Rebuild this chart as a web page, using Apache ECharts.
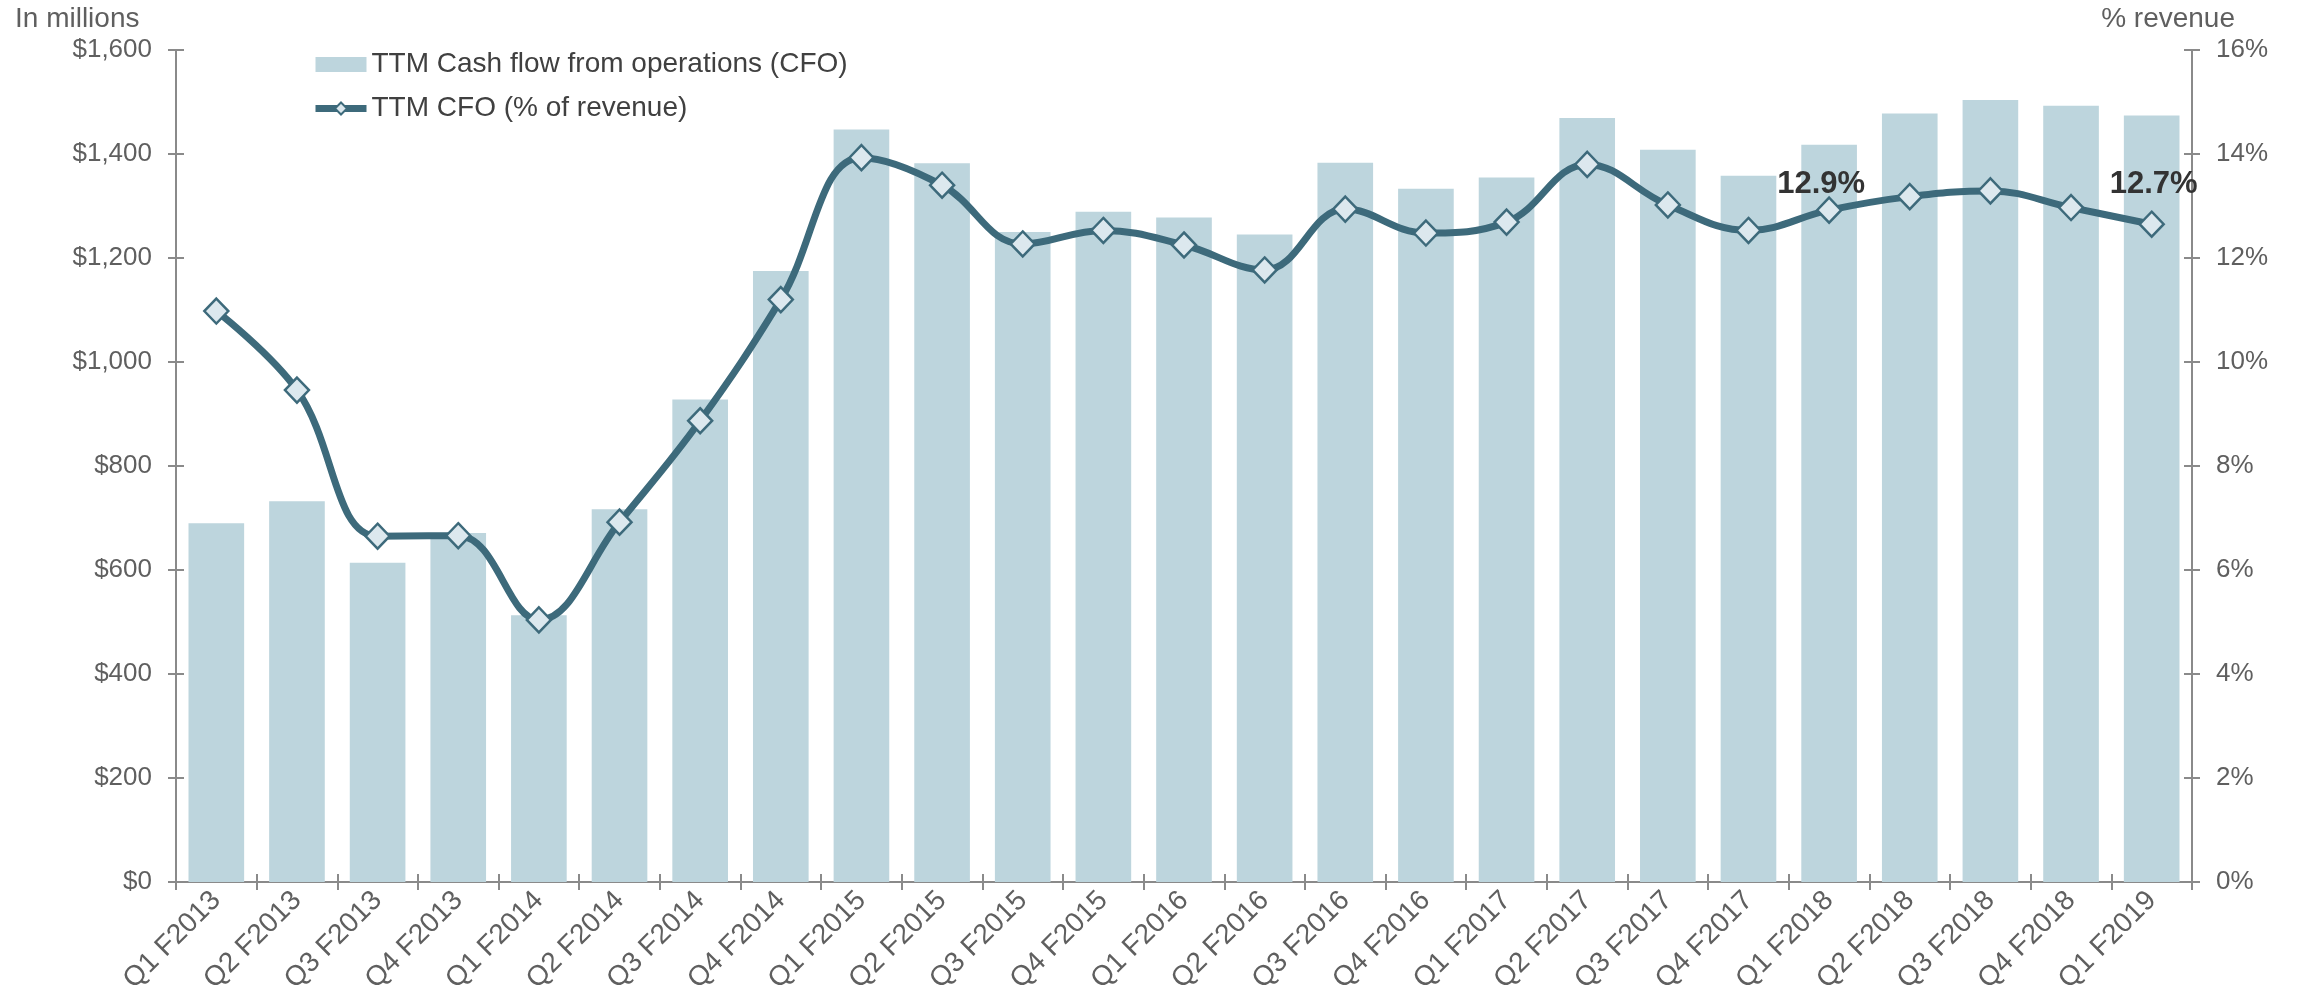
<!DOCTYPE html>
<html>
<head>
<meta charset="utf-8">
<script src="https://cdn.jsdelivr.net/npm/echarts@6/dist/echarts.min.js"></script>
<style>
html,body{margin:0;padding:0;background:#fff;}
#chart{width:2297px;height:998px;}
</style>
</head>
<body>
<div id="chart"></div>
<script>
const categories = ["Q1 F2013","Q2 F2013","Q3 F2013","Q4 F2013","Q1 F2014","Q2 F2014","Q3 F2014","Q4 F2014","Q1 F2015","Q2 F2015","Q3 F2015","Q4 F2015","Q1 F2016","Q2 F2016","Q3 F2016","Q4 F2016","Q1 F2017","Q2 F2017","Q3 F2017","Q4 F2017","Q1 F2018","Q2 F2018","Q3 F2018","Q4 F2018","Q1 F2019"];
const cfoValues = [690, 732, 614, 671, 513, 717, 928, 1175, 1447, 1382, 1250, 1289, 1278, 1245, 1383, 1333, 1355, 1469, 1408, 1358, 1418, 1478, 1504, 1493, 1474];
const cfoPct = [10.98, 9.46, 6.65, 6.66, 5.04, 6.92, 8.87, 11.2, 13.93, 13.4, 12.27, 12.53, 12.25, 11.77, 12.94, 12.48, 12.69, 13.8, 13.02, 12.53, 12.92, 13.18, 13.29, 12.97, 12.65];
const pctLabels = {20: "12.9%", 24: "12.7%"};
const leftTicks = {min: 0, max: 1600, interval: 200};
const rightTicks = {min: 0, max: 16, interval: 2};
const seriesNames = ["TTM Cash flow from operations (CFO)", "TTM CFO (% of revenue)"];

const FONT = '"Liberation Sans", Arial, sans-serif';
const AXIS_GRAY = '#8a8a8a';
const LABEL_GRAY = '#5f5f5f';
const BAR_COLOR = '#bdd5dd';
const LINE_COLOR = '#3d6a7b';
const MARKER_FILL = '#dce8ee';

const labelOffsets = {20: [-8, 14], 24: [2, 0]};
const lineData = cfoPct.map((v, i) => {
  if (pctLabels[i] !== undefined) {
    return {
      value: v,
      label: {
        show: true, position: 'top', distance: 10,
        formatter: pctLabels[i], offset: labelOffsets[i],
        fontFamily: FONT, fontSize: 31, fontWeight: 'bold', color: '#333333'
      }
    };
  }
  return v;
});

const chart = echarts.init(document.getElementById('chart'));
const moneyFmt = v => '$' + v.toLocaleString('en-US');
chart.setOption({
  animation: false,
  textStyle: {fontFamily: FONT},
  grid: {left: 176, right: 105, top: 50, bottom: 116},
  legend: {
    orient: 'vertical', left: 307, top: 44,
    itemWidth: 51, itemHeight: 15, itemGap: 13,
    lineStyle: {width: 7},
    textStyle: {fontFamily: FONT, fontSize: 28, color: '#404040', lineHeight: 31},
    data: [
      {name: seriesNames[0], icon: 'rect'},
      {name: seriesNames[1]}
    ]
  },
  graphic: [
    {type: 'text', left: 15, top: 5, style: {text: 'In millions', font: '28px ' + FONT, fill: LABEL_GRAY}},
    {type: 'text', right: 62, top: 5, style: {text: '% revenue', font: '28px ' + FONT, fill: LABEL_GRAY}}
  ],
  xAxis: [{
    type: 'category', data: categories,
    axisLine: {lineStyle: {color: AXIS_GRAY, width: 2}},
    axisTick: {show: true, length: 8, lineStyle: {color: AXIS_GRAY, width: 2}},
    axisLabel: {rotate: 45, fontSize: 28, color: LABEL_GRAY, fontFamily: FONT, margin: 14, interval: 0}
  }, {
    type: 'category', data: categories, position: 'bottom', gridIndex: 0,
    axisLine: {show: false},
    axisTick: {show: true, inside: true, length: 8, lineStyle: {color: AXIS_GRAY, width: 2}},
    axisLabel: {show: false}
  }],
  yAxis: [{
    type: 'value', position: 'left', min: leftTicks.min, max: leftTicks.max, interval: leftTicks.interval,
    splitLine: {show: false},
    axisLine: {show: true, lineStyle: {color: AXIS_GRAY, width: 2}},
    axisTick: {show: true, length: 8, lineStyle: {color: AXIS_GRAY, width: 2}},
    axisLabel: {fontSize: 26, color: LABEL_GRAY, fontFamily: FONT, margin: 24, formatter: moneyFmt}
  }, {
    type: 'value', position: 'right', min: rightTicks.min, max: rightTicks.max, interval: rightTicks.interval,
    splitLine: {show: false},
    axisLine: {show: true, lineStyle: {color: AXIS_GRAY, width: 2}},
    axisTick: {show: true, length: 8, lineStyle: {color: AXIS_GRAY, width: 2}},
    axisLabel: {fontSize: 26, color: LABEL_GRAY, fontFamily: FONT, margin: 24, formatter: v => v + '%'}
  }, {
    type: 'value', position: 'left', min: leftTicks.min, max: leftTicks.max, interval: leftTicks.interval,
    splitLine: {show: false}, axisLine: {show: false}, axisLabel: {show: false},
    axisTick: {show: true, inside: true, length: 8, lineStyle: {color: AXIS_GRAY, width: 2}}
  }, {
    type: 'value', position: 'right', min: rightTicks.min, max: rightTicks.max, interval: rightTicks.interval,
    splitLine: {show: false}, axisLine: {show: false}, axisLabel: {show: false},
    axisTick: {show: true, inside: true, length: 8, lineStyle: {color: AXIS_GRAY, width: 2}}
  }],
  series: [{
    name: seriesNames[0], type: 'bar', data: cfoValues,
    xAxisIndex: 0, yAxisIndex: 0,
    barCategoryGap: '31%',
    itemStyle: {color: BAR_COLOR}
  }, {
    name: seriesNames[1], type: 'line', data: lineData,
    xAxisIndex: 0, yAxisIndex: 1,
    smooth: 0.4,
    symbol: 'diamond', symbolSize: [24, 25],
    lineStyle: {color: LINE_COLOR, width: 7},
    itemStyle: {color: MARKER_FILL, borderColor: LINE_COLOR, borderWidth: 2.5},
    z: 5
  }]
});
</script>
</body>
</html>
